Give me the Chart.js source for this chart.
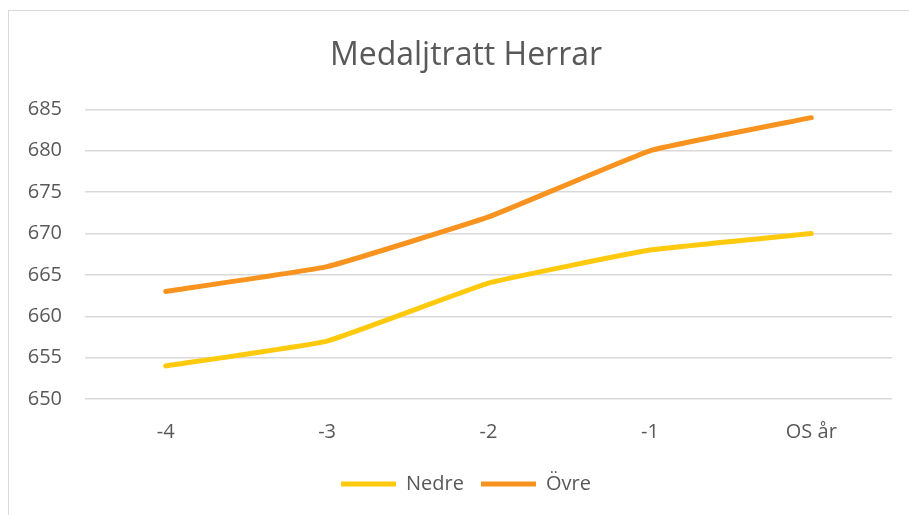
<!DOCTYPE html>
<html>
<head>
<meta charset="utf-8">
<script src="https://cdn.jsdelivr.net/npm/chart.js@4"></script>
<style>
  html, body { margin: 0; padding: 0; background: #fff; }
  #wrap { position: relative; width: 909px; height: 515px; overflow: hidden; }
  #frame { position: absolute; left: 8px; top: 10px; width: 940px; height: 560px; border: 1px solid #d9d9d9; box-sizing: border-box; }
  #c { position: absolute; left: 0; top: 0; }
</style>
</head>
<body>
<div id="wrap">
  <div id="frame"></div>
  <canvas id="c" width="930" height="515"></canvas>
</div>
<script>
// data
const labels = ["-4", "-3", "-2", "-1", "OS år"];
const nedre = [654, 657, 664, 668, 670];
const ovre = [663, 666, 672, 680, 684];

const textColor = "#595959";
const font = "'Open Sans', 'DejaVu Sans', sans-serif";

const ctx = document.getElementById("c").getContext("2d");
new Chart(ctx, {
  type: "line",
  data: {
    labels,
    datasets: [
      {
        label: "Nedre",
        data: nedre,
        borderColor: "#FFC90E",
        backgroundColor: "#FFC90E",
        borderWidth: 5,
        pointRadius: 0,
        tension: 0.1,
        borderCapStyle: "round",
      },
      {
        label: "Övre",
        data: ovre,
        borderColor: "#F7931E",
        backgroundColor: "#F7931E",
        borderWidth: 5,
        pointRadius: 0,
        tension: 0.1,
        borderCapStyle: "round",
      },
    ],
  },
  options: {
    responsive: false,
    animation: false,
    layout: { padding: { top: 37, left: 20, right: 18, bottom: 11 } },
    plugins: {
      title: {
        display: true,
        text: "Medaljtratt Herrar",
        color: textColor,
        font: { family: font, size: 32, weight: "normal" },
        padding: { top: 0, bottom: 34 },
      },
      legend: {
        position: "bottom",
        labels: {
          color: textColor,
          font: { family: font, size: 20 },
          boxWidth: 55,
          boxHeight: 5,
          padding: 17,
          // flat bars for the legend lines, no thick outline
          generateLabels: (chart) =>
            Chart.defaults.plugins.legend.labels.generateLabels(chart).map((l) => ({ ...l, lineWidth: 0 })),
        },
      },
      tooltip: { enabled: false },
    },
    scales: {
      x: {
        offset: true,
        grid: { display: false },
        border: { display: false },
        ticks: { color: textColor, font: { family: font, size: 20 }, padding: 13 },
      },
      y: {
        min: 650,
        max: 685,
        afterFit: (s) => { s.width = 65; },
        grid: { color: "#d9d9d9", lineWidth: 1.5, drawTicks: false },
        border: { display: false },
        ticks: { stepSize: 5, color: textColor, font: { family: font, size: 20 }, padding: 23 },
      },
      // empty spacer on the right so the title and legend sit centred like the original
      spacer: {
        type: "linear",
        position: "right",
        afterFit: (s) => { s.width = 20; },
        grid: { display: false },
        border: { display: false },
        ticks: { display: false },
      },
    },
  },
});
</script>
</body>
</html>
